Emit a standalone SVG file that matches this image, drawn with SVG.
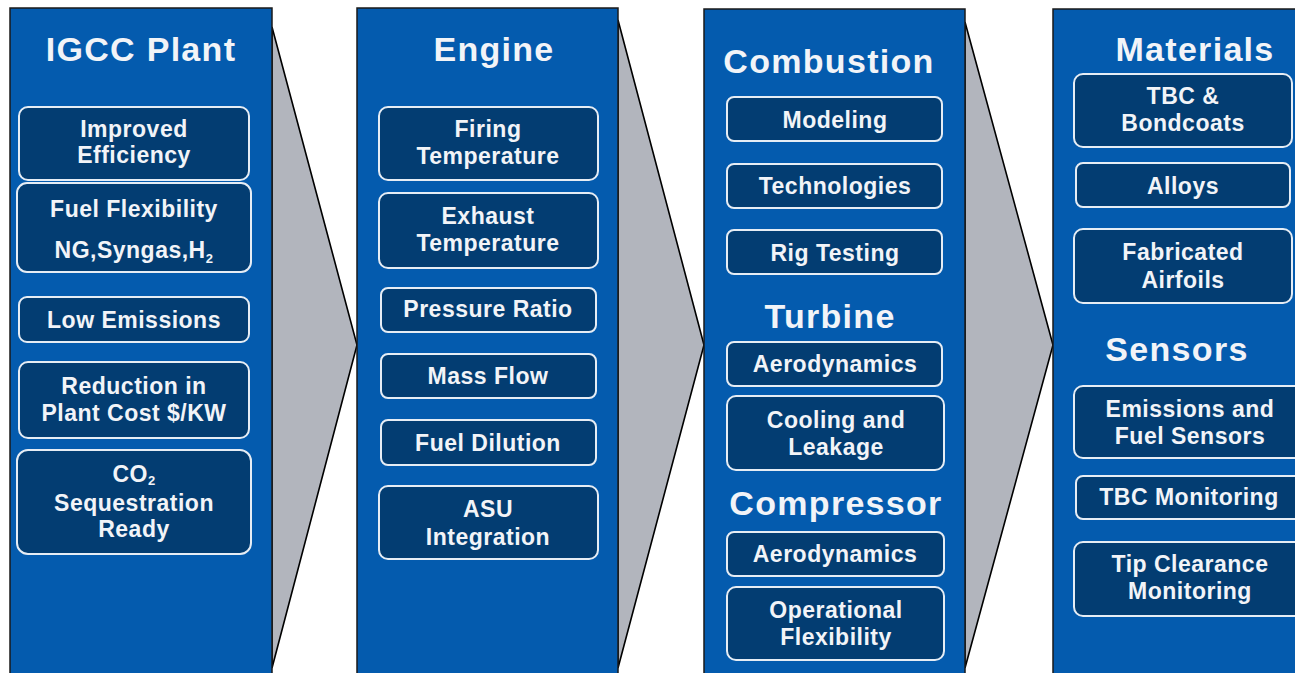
<svg xmlns="http://www.w3.org/2000/svg" width="1295" height="673" viewBox="0 0 1295 673">
<style>
.col{fill:#045bae;stroke:#1a1a1a;stroke-width:1.5}
.arr{fill:#b2b5bd;stroke:#000;stroke-width:1.6;stroke-linejoin:miter}
.box{fill:#033d72;stroke:#e6edf5;stroke-width:2}
.t{font-family:"Liberation Sans",Arial,sans-serif;font-weight:bold;fill:#f2f4f8;text-anchor:middle}
.h{font-size:34px;letter-spacing:1.3px}
.b{font-size:23px;letter-spacing:0.5px}
.sub{font-size:13px}
</style>
<rect width="1295" height="673" fill="#ffffff"/>
<g id="connectors">
<polygon class="arr" points="272,27 357,345 272,668"/>
<polygon class="arr" points="618,20 704,345 618,668"/>
<polygon class="arr" points="965,22 1053,345 965,668"/>
</g>
<g id="col-igcc">
<rect class="col" x="10" y="8" width="262" height="680"/>
<text class="t h" x="141" y="61">IGCC Plant</text>
<g id="n-eff"><rect class="box" x="19" y="107" width="230" height="73" rx="9"/><text class="t b" x="134" y="137">Improved</text><text class="t b" x="134" y="163">Efficiency</text></g>
<g id="n-fuel"><rect class="box" x="17" y="183" width="234" height="89" rx="10"/><text class="t b" x="134" y="217">Fuel Flexibility</text><text class="t b" x="134" y="258">NG,Syngas,H<tspan class="sub" dy="5">2</tspan></text></g>
<g id="n-low"><rect class="box" x="19" y="297" width="230" height="45" rx="8"/><text class="t b" x="134" y="328">Low Emissions</text></g>
<g id="n-cost"><rect class="box" x="19" y="362" width="230" height="76" rx="9"/><text class="t b" x="134" y="394">Reduction in</text><text class="t b" x="134" y="421">Plant Cost $/KW</text></g>
<g id="n-co2"><rect class="box" x="17" y="450" width="234" height="104" rx="11"/><text class="t b" x="134" y="482">CO<tspan class="sub" dy="3">2</tspan></text><text class="t b" x="134" y="511">Sequestration</text><text class="t b" x="134" y="537">Ready</text></g>
</g>
<g id="col-engine">
<rect class="col" x="357" y="8" width="261" height="680"/>
<text class="t h" x="494" y="61">Engine</text>
<g id="n-firing"><rect class="box" x="379" y="107" width="219" height="73" rx="9"/><text class="t b" x="488" y="137">Firing</text><text class="t b" x="488" y="164">Temperature</text></g>
<g id="n-exhaust"><rect class="box" x="379" y="193" width="219" height="75" rx="9"/><text class="t b" x="488" y="224">Exhaust</text><text class="t b" x="488" y="251">Temperature</text></g>
<g id="n-pr"><rect class="box" x="381" y="288" width="215" height="44" rx="7"/><text class="t b" x="488" y="317">Pressure Ratio</text></g>
<g id="n-mass"><rect class="box" x="381" y="354" width="215" height="44" rx="7"/><text class="t b" x="488" y="384">Mass Flow</text></g>
<g id="n-dil"><rect class="box" x="381" y="420" width="215" height="45" rx="7"/><text class="t b" x="488" y="451">Fuel Dilution</text></g>
<g id="n-asu"><rect class="box" x="379" y="486" width="219" height="73" rx="9"/><text class="t b" x="488" y="517">ASU</text><text class="t b" x="488" y="545">Integration</text></g>
</g>
<g id="col-comb">
<rect class="col" x="704" y="9" width="261" height="680"/>
<text class="t h" x="829" y="73">Combustion</text>
<g id="n-model"><rect class="box" x="727" y="97" width="215" height="44" rx="7"/><text class="t b" x="835" y="128">Modeling</text></g>
<g id="n-tech"><rect class="box" x="727" y="164" width="215" height="44" rx="7"/><text class="t b" x="835" y="194">Technologies</text></g>
<g id="n-rig"><rect class="box" x="727" y="230" width="215" height="44" rx="7"/><text class="t b" x="835" y="261">Rig Testing</text></g>
<text class="t h" x="830" y="328">Turbine</text>
<g id="n-taero"><rect class="box" x="727" y="342" width="215" height="44" rx="7"/><text class="t b" x="835" y="372">Aerodynamics</text></g>
<g id="n-cool"><rect class="box" x="727" y="396" width="217" height="74" rx="9"/><text class="t b" x="836" y="428">Cooling and</text><text class="t b" x="836" y="455">Leakage</text></g>
<text class="t h" x="836" y="515">Compressor</text>
<g id="n-caero"><rect class="box" x="727" y="532" width="217" height="44" rx="7"/><text class="t b" x="835" y="562">Aerodynamics</text></g>
<g id="n-op"><rect class="box" x="727" y="587" width="217" height="73" rx="9"/><text class="t b" x="836" y="618">Operational</text><text class="t b" x="836" y="645">Flexibility</text></g>
</g>
<g id="col-mat">
<rect class="col" x="1053" y="9" width="260" height="680"/>
<text class="t h" x="1195" y="61">Materials</text>
<g id="n-tbc"><rect class="box" x="1074" y="74" width="218" height="73" rx="9"/><text class="t b" x="1183" y="104">TBC &amp;</text><text class="t b" x="1183" y="131">Bondcoats</text></g>
<g id="n-alloy"><rect class="box" x="1076" y="163" width="214" height="44" rx="7"/><text class="t b" x="1183" y="194">Alloys</text></g>
<g id="n-fab"><rect class="box" x="1074" y="229" width="218" height="74" rx="9"/><text class="t b" x="1183" y="260">Fabricated</text><text class="t b" x="1183" y="288">Airfoils</text></g>
<text class="t h" x="1177" y="361">Sensors</text>
<g id="n-emis"><rect class="box" x="1074" y="386" width="230" height="72" rx="9"/><text class="t b" x="1190" y="417">Emissions and</text><text class="t b" x="1190" y="444">Fuel Sensors</text></g>
<g id="n-tbcm"><rect class="box" x="1076" y="476" width="226" height="43" rx="7"/><text class="t b" x="1189" y="505">TBC Monitoring</text></g>
<g id="n-tip"><rect class="box" x="1074" y="542" width="230" height="74" rx="9"/><text class="t b" x="1190" y="572">Tip Clearance</text><text class="t b" x="1190" y="599">Monitoring</text></g>
</g>
</svg>
